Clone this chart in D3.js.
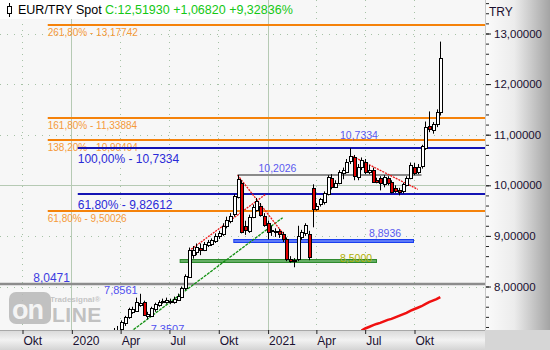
<!DOCTYPE html>
<html>
<head>
<meta charset="utf-8">
<script src="https://cdn.jsdelivr.net/npm/d3@7"></script>
<style>
  body { margin: 0; background: #fff; }
  svg { display: block; font-family: "Liberation Sans", Arial, sans-serif; }
</style>
</head>
<body>
<svg id="chart" width="550" height="350"></svg>
<script>
// weekly candles, dated by the Friday of each week
const weeks = [
  "2020-03-20","2020-03-27","2020-04-03","2020-04-10","2020-04-17","2020-04-24","2020-05-01","2020-05-08","2020-05-15","2020-05-22",
  "2020-05-29","2020-06-05","2020-06-12","2020-06-19","2020-06-26","2020-07-03","2020-07-10","2020-07-17","2020-07-24","2020-07-31",
  "2020-08-07","2020-08-14","2020-08-21","2020-08-28","2020-09-04","2020-09-11","2020-09-18","2020-09-25","2020-10-02","2020-10-09",
  "2020-10-16","2020-10-23","2020-10-30","2020-11-06","2020-11-13","2020-11-20","2020-11-27","2020-12-04","2020-12-11","2020-12-18",
  "2020-12-25","2021-01-01","2021-01-08","2021-01-15","2021-01-22","2021-01-29","2021-02-05","2021-02-12","2021-02-19","2021-02-26",
  "2021-03-05","2021-03-12","2021-03-19","2021-03-26","2021-04-02","2021-04-09","2021-04-16","2021-04-23","2021-04-30","2021-05-07",
  "2021-05-14","2021-05-21","2021-05-28","2021-06-04","2021-06-11","2021-06-18","2021-06-25","2021-07-02","2021-07-09","2021-07-16",
  "2021-07-23","2021-07-30","2021-08-06","2021-08-13","2021-08-20","2021-08-27","2021-09-03","2021-09-10","2021-09-17","2021-09-24",
  "2021-10-01","2021-10-08","2021-10-15","2021-10-22","2021-10-29","2021-11-05","2021-11-12","2021-11-19"
];
const opens = [
  7.05,7.12,7.15,7.27,7.39,7.50,7.53,7.64,7.70,7.42,
  7.42,7.55,7.65,7.70,7.69,7.70,7.70,7.75,7.80,7.96,
  8.20,8.63,8.68,8.76,8.72,8.82,8.85,8.90,9.00,9.05,
  9.20,9.30,9.42,9.78,10.05,9.20,9.10,9.39,9.52,9.60,
  9.40,9.26,9.10,9.08,9.10,9.03,8.93,8.55,8.50,8.53,
  8.97,9.07,9.03,9.95,9.55,9.62,9.66,9.84,10.15,9.98,
  10.06,10.25,10.28,10.47,10.55,10.17,10.36,10.47,10.28,10.31,
  10.10,10.15,10.02,10.15,10.07,9.95,9.90,9.88,10.02,10.16,
  10.37,10.27,10.37,10.75,11.18,11.10,11.22,11.45
];
const highs = [
  7.18,7.22,7.33,7.42,7.58,7.60,7.78,7.8561,7.72,7.50,
  7.60,7.68,7.73,7.76,7.78,7.76,7.80,7.86,8.00,8.24,
  8.77,8.80,8.85,8.85,8.88,8.92,8.95,9.05,9.10,9.25,
  9.38,9.45,9.82,10.2026,10.10,9.30,9.42,9.62,9.75,9.65,
  9.45,9.30,9.20,9.15,9.14,9.08,8.97,8.60,8.56,9.20,
  9.12,9.25,9.10,10.02,9.65,9.75,9.88,10.20,10.22,10.10,
  10.30,10.35,10.52,10.7334,10.60,10.42,10.55,10.52,10.40,10.35,
  10.15,10.18,10.20,10.18,10.10,10.00,9.95,10.05,10.18,10.45,
  10.44,10.42,10.80,11.26,11.46,11.25,11.50,12.84
];
const lows = [
  6.95,7.02,7.10,7.22,7.36,7.46,7.50,7.60,7.42,7.3507,
  7.40,7.50,7.60,7.66,7.66,7.65,7.66,7.72,7.77,7.93,
  8.18,8.55,8.62,8.62,8.70,8.78,8.80,8.86,8.94,9.00,
  9.15,9.25,9.38,9.74,9.05,9.02,9.06,9.35,9.48,9.38,
  9.18,8.93,9.00,8.98,8.96,8.88,8.50,8.47,8.38,8.50,
  8.92,9.00,8.52,9.17,9.50,9.58,9.62,9.80,9.92,9.95,
  10.02,10.12,10.24,10.42,10.10,10.10,10.30,10.22,10.22,10.05,
  10.04,9.90,9.96,10.00,9.84,9.85,9.80,9.84,9.98,10.12,
  10.20,10.22,10.33,10.70,11.05,11.02,11.15,11.38
];
const closes = [
  7.12,7.15,7.29,7.39,7.55,7.55,7.70,7.68,7.45,7.45,
  7.58,7.65,7.70,7.72,7.73,7.72,7.76,7.82,7.97,8.20,
  8.73,8.72,8.78,8.72,8.84,8.87,8.92,9.00,9.05,9.20,
  9.32,9.40,9.78,10.13,9.09,9.13,9.38,9.58,9.69,9.42,
  9.22,9.09,9.12,9.10,9.05,8.93,8.53,8.51,8.52,8.99,
  9.07,9.22,8.57,9.54,9.60,9.72,9.84,10.17,9.97,10.05,
  10.27,10.31,10.47,10.57,10.17,10.37,10.50,10.27,10.31,10.08,
  10.07,10.05,10.16,10.05,9.88,9.90,9.86,10.02,10.15,10.41,
  10.25,10.37,10.77,11.16,11.12,11.22,11.4511,12.5193
];
// red indicator line in the lower right, last 22 weeks
const avgValues = [7.13,7.17,7.20,7.23,7.26,7.28,7.31,7.34,7.36,7.39,7.42,7.45,7.48,7.52,7.55,7.58,7.61,7.65,7.69,7.72,7.75,7.79];

// x axis
const monthTicks = ["2019-10-01","2020-01-01","2020-04-01","2020-07-01","2020-10-01","2021-01-01","2021-04-01","2021-07-01","2021-10-01"];
const monthLabels = ["Okt","2020","Apr","Jul","Okt","2021","Apr","Jul","Okt"];
const yearTicks = ["2020-01-01","2021-01-01"];
const priceTicks = [8, 9, 10, 11, 12, 13];

// fibonacci levels
const fibLabels = ["261,80% - 13,17742","161,80% - 11,33884","138,20% - 10,90494","100,00% - 10,7334","61,80% - 9,82612","61,80% - 9,50026"];
const fibValues = [13.17742, 11.33884, 10.90494, 10.7334, 9.82612, 9.50026];
const fibKinds = ["ext","ext","ext","ret","ret","ext"];
const fibStarts = ["2019-11-18","2019-11-18","2019-11-18","2020-01-13","2020-01-13","2019-11-18"];

// support / resistance segments
const levelValues = [10.2026, 8.8936, 8.5];
const levelStarts = ["2020-11-06","2020-10-29","2020-07-21"];
const levelEnds = ["2021-10-15","2021-10-01","2021-07-24"];

// trend lines: [date, value] pairs
const trendRedUp = [["2020-08-07", 8.70], ["2020-12-28", 9.82]];
const trendRedDown = [["2020-11-06", 10.2026], ["2021-02-03", 8.99]];
const trendGreen = [["2020-04-20", 7.10], ["2021-01-29", 9.36]];
const trendRed2021 = [["2021-06-09", 10.57], ["2021-10-08", 9.92]];

// price labels on the chart
const noteTexts = ["10,7334","10,2026","8,8936","8,5000","8,0471","7,8561","7,3507","7,0227"];
const noteDates = ["2021-05-16","2020-12-15","2021-07-09","2021-05-16","2019-10-22","2020-03-02","2020-05-28","2019-10-06"];
const noteValues = [10.92, 10.27, 8.97, 8.49, 8.08, 7.85, 7.08, 6.98];
const noteSizes = [10.5, 10.5, 10.5, 10.5, 12, 11, 11, 11];
const noteColors = ["#5a5af0","#5a5af0","#5a5af0","#b0b000","#3c3ce0","#5050f0","#5050f0","#30a030"];

const grid8047 = 8.0471;

const parse = d3.timeParse("%Y-%m-%d");
const svg = d3.select("#chart");

const plotW = 485, plotH = 330;

const x = d3.scaleTime()
    .domain([parse("2019-10-01"), parse("2021-10-01")])
    .range([22, 414]);
const y = d3.scaleLinear()
    .domain([8, 13])
    .range([286.5, 33.5]);

const defs = svg.append("defs");
defs.append("clipPath").attr("id", "plotClip")
    .append("rect").attr("width", plotW).attr("height", plotH);
const gr = defs.append("linearGradient").attr("id", "rightPanel");
gr.append("stop").attr("offset", "0%").attr("stop-color", "#fbfbfb");
gr.append("stop").attr("offset", "45%").attr("stop-color", "#ececec");
gr.append("stop").attr("offset", "100%").attr("stop-color", "#a4a4a4");
const gb = defs.append("linearGradient").attr("id", "bottomPanel")
    .attr("x1", 0).attr("y1", 0).attr("x2", 0).attr("y2", 1);
gb.append("stop").attr("offset", "0%").attr("stop-color", "#d8d8d8");
gb.append("stop").attr("offset", "50%").attr("stop-color", "#f2f2f2");
gb.append("stop").attr("offset", "100%").attr("stop-color", "#d4d4d4");

// backgrounds
svg.append("rect").attr("width", plotW).attr("height", plotH).attr("fill", "#f7f7f7");
svg.append("rect").attr("x", plotW).attr("width", 550 - plotW).attr("height", plotH).attr("fill", "url(#rightPanel)");
svg.append("rect").attr("y", plotH).attr("width", plotW).attr("height", 20).attr("fill", "url(#bottomPanel)");
svg.append("rect").attr("x", plotW).attr("y", plotH).attr("width", 550 - plotW).attr("height", 20).attr("fill", "#d6d6d6");
svg.append("line").attr("x1", 0).attr("x2", plotW).attr("y1", plotH + 0.5).attr("y2", plotH + 0.5)
    .attr("stroke", "#a8a8a8");
svg.append("line").attr("x1", plotW + 0.5).attr("x2", plotW + 0.5).attr("y1", 0).attr("y2", plotH)
    .attr("stroke", "#c8c8c8");

const plot = svg.append("g").attr("clip-path", "url(#plotClip)");

// grid
const isYear = (s) => yearTicks.includes(s);
plot.selectAll(".vgrid").data(monthTicks).join("line")
    .attr("x1", (d) => Math.round(x(parse(d))) + 0.5)
    .attr("x2", (d) => Math.round(x(parse(d))) + 0.5)
    .attr("y1", 0).attr("y2", plotH)
    .attr("stroke", (d) => isYear(d) ? "#b6cab4" : "#a6c2a6")
    .attr("stroke-dasharray", (d) => isYear(d) ? null : "1,5");
plot.selectAll(".hgrid").data(priceTicks).join("line")
    .attr("x1", 0).attr("x2", plotW)
    .attr("y1", (d) => Math.round(y(d)) + 0.5)
    .attr("y2", (d) => Math.round(y(d)) + 0.5)
    .attr("stroke", (d) => d === 10 ? "#b6cab4" : "#a6c2a6")
    .attr("stroke-dasharray", (d) => d === 10 ? null : "1,6");

// horizontal grey level 8,0471
plot.append("line").attr("x1", 0).attr("x2", plotW)
    .attr("y1", Math.round(y(grid8047))).attr("y2", Math.round(y(grid8047)))
    .attr("stroke", "#8c8c8c").attr("stroke-width", 2.5);

// fibonacci lines
const fibColor = (k) => k === "ext" ? "#f5820a" : "#1414b4";
fibValues.forEach((v, i) => {
    plot.append("line")
        .attr("x1", x(parse(fibStarts[i]))).attr("x2", plotW)
        .attr("y1", Math.round(y(v))).attr("y2", Math.round(y(v)))
        .attr("stroke", fibColor(fibKinds[i])).attr("stroke-width", 2);
    plot.append("text")
        .attr("x", x(parse(fibStarts[i])))
        .attr("y", Math.round(y(v)) + (fibKinds[i] === "ext" ? 11 : 15))
        .attr("font-size", fibKinds[i] === "ext" ? 10 : 12)
        .attr("fill", fibKinds[i] === "ext" ? "#f59a3a" : "#2a2ad8")
        .text(fibLabels[i]);
});

// grey resistance 10,2026
plot.append("line")
    .attr("x1", x(parse(levelStarts[0]))).attr("x2", x(parse(levelEnds[0])))
    .attr("y1", Math.round(y(levelValues[0]))).attr("y2", Math.round(y(levelValues[0])))
    .attr("stroke", "#8a8a8a").attr("stroke-width", 2);

// support bars (blue, green) with light core
const barColors = [null, ["#1a3ef0", "#a0b4ff"], ["#2e8a2e", "#9cd29c"]];
[1, 2].forEach((i) => {
    const yy = Math.round(y(levelValues[i]));
    plot.append("line")
        .attr("x1", x(parse(levelStarts[i]))).attr("x2", x(parse(levelEnds[i])))
        .attr("y1", yy).attr("y2", yy)
        .attr("stroke", barColors[i][0]).attr("stroke-width", 4);
    plot.append("line")
        .attr("x1", x(parse(levelStarts[i])) + 1).attr("x2", x(parse(levelEnds[i])) - 1)
        .attr("y1", yy).attr("y2", yy)
        .attr("stroke", barColors[i][1]).attr("stroke-width", 1);
});

// trend lines
const trendLine = d3.line()
    .x((d) => x(parse(d[0])))
    .y((d) => y(d[1]));
plot.append("path").attr("d", trendLine(trendGreen))
    .attr("fill", "none").attr("stroke", "#109010").attr("stroke-width", 1.3).attr("stroke-dasharray", "3,1");
[trendRedUp, trendRedDown, trendRed2021].forEach((t) => {
    plot.append("path").attr("d", trendLine(t))
        .attr("fill", "none").attr("stroke", "#f01818").attr("stroke-width", 1.3).attr("stroke-dasharray", "2,1");
});

// indicator line
const avgLine = d3.line()
    .x((d, i) => x(parse(weeks[weeks.length - avgValues.length + i])))
    .y((d) => y(d));
plot.append("path").attr("d", avgLine(avgValues))
    .attr("fill", "none").attr("stroke", "#f01010").attr("stroke-width", 2.5);

// candles
const candles = weeks.map((w, i) => ({
    date: parse(w), open: opens[i], high: highs[i], low: lows[i], close: closes[i]
}));
const cg = plot.append("g");
cg.selectAll(".wick").data(candles).join("line")
    .attr("x1", (d) => Math.round(x(d.date)) + 0.5)
    .attr("x2", (d) => Math.round(x(d.date)) + 0.5)
    .attr("y1", (d) => y(d.high))
    .attr("y2", (d) => y(d.low))
    .attr("stroke", "#000");
cg.selectAll(".body").data(candles).join("rect")
    .attr("x", (d) => Math.round(x(d.date)) - 0.5)
    .attr("width", 3)
    .attr("y", (d) => Math.round(y(Math.max(d.open, d.close))) + 0.5)
    .attr("height", (d) => Math.max(1, Math.round(Math.abs(y(d.open) - y(d.close)))))
    .attr("fill", (d) => d.close >= d.open ? "#ffffff" : "#e00000")
    .attr("stroke", "#000");

// price notes
noteTexts.forEach((t, i) => {
    plot.append("text")
        .attr("x", x(parse(noteDates[i])))
        .attr("y", y(noteValues[i]))
        .attr("font-size", noteSizes[i])
        .attr("fill", noteColors[i])
        .text(t);
});

// watermark
const wm = svg.append("g").attr("opacity", 0.85);
wm.append("rect").attr("x", 9).attr("y", 292).attr("width", 42).attr("height", 32).attr("rx", 7)
    .attr("fill", "#b8b8b8");
wm.append("text").attr("x", 12).attr("y", 319).attr("font-size", 27).attr("font-weight", "bold")
    .attr("fill", "#f4f4f4").attr("letter-spacing", -1).text("on");
wm.append("text").attr("x", 52).attr("y", 322).attr("font-size", 21).attr("font-weight", "bold")
    .attr("fill", "#b8b8b8").attr("letter-spacing", 0.5).text("LINE");
wm.append("text").attr("x", 50).attr("y", 302).attr("font-size", 8).attr("font-weight", "bold")
    .attr("fill", "#bcbcbc").text("Tradesignal®");

// y axis
const comma = d3.formatLocale({ decimal: ",", thousands: ".", grouping: [3], currency: ["", ""] });
const minorTicks = d3.range(36, 69).map((d) => d / 5);
const yMinor = svg.append("g").attr("transform", `translate(${plotW + 1},0)`)
    .call(d3.axisRight(y).tickValues(minorTicks.filter((v) => y(v) > 2 && y(v) < plotH)).tickSize(3).tickFormat(""));
yMinor.select(".domain").remove();
const yMajor = svg.append("g").attr("transform", `translate(${plotW + 1},0)`)
    .call(d3.axisRight(y).tickValues(priceTicks).tickSize(5).tickPadding(3).tickFormat(comma.format(".5f")));
yMajor.select(".domain").remove();
yMajor.selectAll("text").attr("font-size", 11.5).attr("fill", "#1a1030")
    .attr("font-family", "'Liberation Sans', Arial, sans-serif");
svg.selectAll(".tick line").attr("stroke", "#222");

svg.append("text").attr("x", 489).attr("y", 16).attr("font-size", 12).attr("fill", "#1a1030").text("TRY");

// x axis
const xAxis = svg.append("g").attr("transform", `translate(0,${plotH})`)
    .call(d3.axisBottom(x).tickValues(monthTicks.map(parse)).tickSize(4)
        .tickFormat((d, i) => monthLabels[i]));
xAxis.select(".domain").remove();
xAxis.selectAll(".tick line").attr("stroke", "#222").attr("transform", "translate(0.5,0)");
xAxis.selectAll("text").attr("text-anchor", "start").attr("dx", 1).attr("y", 5).attr("dy", "0.85em")
    .attr("font-size", 12).attr("fill", "#1a1030")
    .attr("font-family", "'Liberation Sans', Arial, sans-serif");

// title
svg.append("rect").attr("width", 256).attr("height", 19).attr("fill", "#ffffff");
svg.append("line").attr("x1", 9.5).attr("x2", 9.5).attr("y1", 3).attr("y2", 17).attr("stroke", "#000");
svg.append("rect").attr("x", 7.5).attr("y", 6.5).attr("width", 4).attr("height", 7).attr("fill", "#fff").attr("stroke", "#000");
const title = svg.append("text").attr("x", 18).attr("y", 14).attr("font-size", 12.5);
title.append("tspan").attr("fill", "#000").text("EUR/TRY Spot ");
title.append("tspan").attr("fill", "#14c814").text("C:12,51930 +1,06820 +9,32836%");
</script>
</body>
</html>
